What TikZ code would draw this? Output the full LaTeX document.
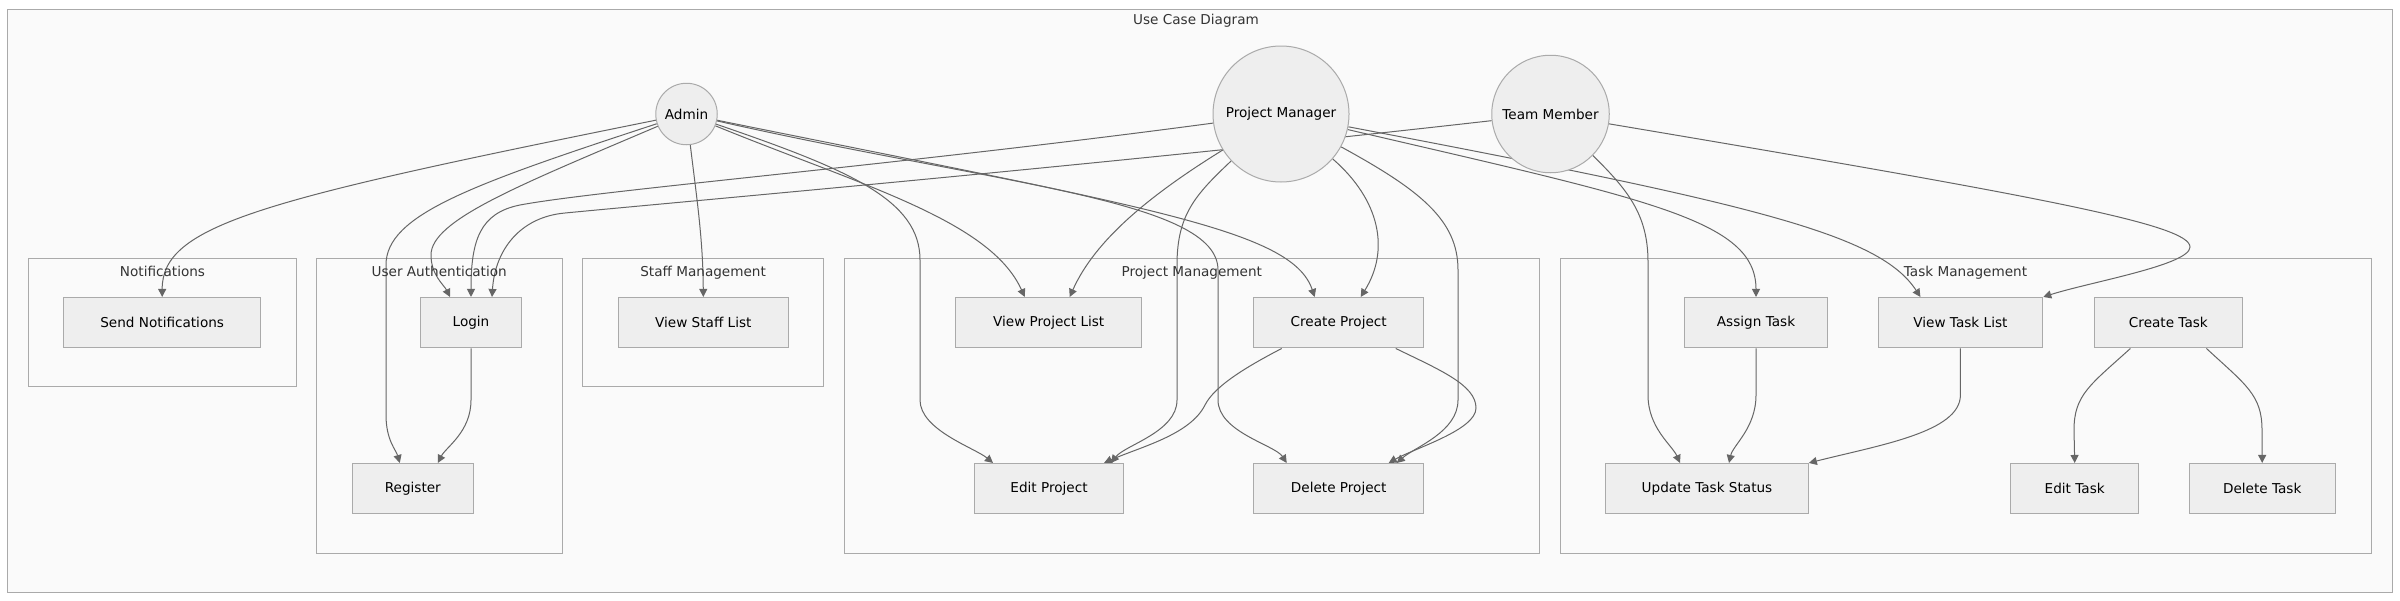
\documentclass[tikz,border=0pt]{standalone}
\usepackage{fontspec}
\setmainfont{DejaVu Sans}
\usetikzlibrary{arrows.meta}
\definecolor{nodefill}{HTML}{EEEEEE}
\definecolor{nodeline}{HTML}{AAAAAA}
\definecolor{edgecol}{HTML}{666666}
\definecolor{framefill}{HTML}{FAFAFA}
\definecolor{txt}{HTML}{333333}
\pgfdeclarelayer{frames}
\pgfdeclarelayer{edges}
\pgfsetlayers{frames,edges,main}

\begin{document}
\begin{tikzpicture}[x=1pt, y=-1pt, font=\fontsize{13.6}{16}\selectfont, actor/.style={circle, draw=nodeline, fill=nodefill, line width=1pt, text=black, inner sep=0pt}, usecase/.style={rectangle, draw=nodeline, fill=nodefill, line width=1pt, minimum height=50.5pt, inner sep=0pt, text=black}, frame/.style={draw=nodeline, fill=framefill, line width=1pt}, ftitle/.style={anchor=base, text=txt, inner sep=0pt}, arr/.style={draw=edgecol, line width=1pt, -{Triangle[length=8pt, width=8pt]}}]
\useasboundingbox (0,0) rectangle (2400,600);
% actors
\node[actor, minimum size=61.5pt] (admin) at (686.5,114) {Admin};
\node[actor, minimum size=136pt] (pm) at (1281,114) {Project Manager};
\node[actor, minimum size=117.5pt] (tm) at (1550.5,114) {Team Member};
% use cases, upper row
\node[usecase, minimum width=197pt] (send) at (162.2,322.7) {Send Notifications};
\node[usecase, minimum width=101pt] (login) at (471,322.7) {Login};
\node[usecase, minimum width=170pt] (staff) at (703.3,322.7) {View Staff List};
\node[usecase, minimum width=186pt] (vpl) at (1048.7,322.7) {View Project List};
\node[usecase, minimum width=169.5pt] (cproj) at (1338.7,322.7) {Create Project};
\node[usecase, minimum width=143pt] (assign) at (1756,322.7) {Assign Task};
\node[usecase, minimum width=164.7pt] (vtl) at (1960.4,322.7) {View Task List};
\node[usecase, minimum width=147.3pt] (ctask) at (2168.4,322.7) {Create Task};
% use cases, lower row
\node[usecase, minimum width=121.5pt] (register) at (412.8,488.7) {Register};
\node[usecase, minimum width=149pt] (eproj) at (1049,488.7) {Edit Project};
\node[usecase, minimum width=169.5pt] (dproj) at (1338.7,488.7) {Delete Project};
\node[usecase, minimum width=202.7pt] (update) at (1707,488.7) {Update Task Status};
\node[usecase, minimum width=128pt] (etask) at (2074.7,488.7) {Edit Task};
\node[usecase, minimum width=146.4pt] (dtask) at (2262.2,488.7) {Delete Task};
% frames
\begin{pgfonlayer}{frames}
\draw[frame] (7.7,9) rectangle (2392,592);
\draw[frame] (28.6,258.7) rectangle (296.4,386.7);
\draw[frame] (316.3,258.7) rectangle (562.2,553);
\draw[frame] (582.7,258.7) rectangle (823.5,386.7);
\draw[frame] (844.4,258.7) rectangle (1539.3,553);
\draw[frame] (1560,258.7) rectangle (2371,553);
\end{pgfonlayer}
\node[ftitle] (title) at (1196,24) {Use Case Diagram};
\node[ftitle] (tnotif) at (162.5,276) {Notifications};
\node[ftitle] (tauth) at (439.2,276) {User Authentication};
\node[ftitle] (tstaff) at (703.1,276) {Staff Management};
\node[ftitle] (tproj) at (1191.8,276) {Project Management};
\node[ftitle] (ttask) at (1965.5,276) {Task Management};
% connectors
\begin{pgfonlayer}{edges}
\draw[arr] (admin) .. controls (260,200) and (162,225) .. (send.north);
\draw[arr] (admin) .. controls (470,185) and (386,215) .. (386,265) -- (386,415) .. controls (386,440) and (396,450) .. ([xshift=-13]register.north);
\draw[arr] (admin) .. controls (520,185) and (431,220) .. (431,255) .. controls (431,275) and (444,285) .. ([xshift=-21]login.north);
\draw[arr] (admin) .. controls (697,200) and (703,240) .. (staff.north);
\draw[arr] (admin) .. controls (860,185) and (990,220) .. ([xshift=-24]vpl.north);
\draw[arr] (admin) .. controls (850,170) and (920,200) .. (920,260) -- (920,400) .. controls (920,430) and (975,448) .. ([xshift=-56]eproj.north);
\draw[arr] (admin) .. controls (1000,185) and (1218,200) .. (1218,270) -- (1218,400) .. controls (1218,432) and (1275,445) .. ([xshift=-52]dproj.north);
\draw[arr] (admin) .. controls (1150,208) and (1292,230) .. ([xshift=-24]cproj.north);
\draw[arr] (pm) .. controls (900,165) and (600,190) .. (520,205) .. controls (480,213) and (471,240) .. (login.north);
\draw[arr] (pm) .. controls (1150,195) and (1095,240) .. ([xshift=21]vpl.north);
\draw[arr] (pm) .. controls (1195,195) and (1177,215) .. (1177,265) -- (1177,400) .. controls (1177,432) and (1125,445) .. ([xshift=62]eproj.north);
\draw[arr] (pm) .. controls (1380,200) and (1390,250) .. ([xshift=22]cproj.north);
\draw[arr] (pm) .. controls (1420,190) and (1458,220) .. (1458,270) -- (1458,400) .. controls (1458,432) and (1415,447) .. ([xshift=58]dproj.north);
\draw[arr] (pm) .. controls (1650,200) and (1756,220) .. (assign.north);
\draw[arr] (pm) .. controls (1760,205) and (1880,235) .. ([xshift=-40]vtl.north);
\draw[arr] (tm) .. controls (1100,165) and (700,200) .. (565,213) .. controls (520,217) and (495,250) .. ([xshift=21]login.north);
\draw[arr] (tm) .. controls (2050,198) and (2190,225) .. (2190,247) .. controls (2190,265) and (2090,282) .. (vtl.north east);
\draw[arr] (tm) .. controls (1628,190) and (1648,215) .. (1648,262) -- (1648,395) .. controls (1648,428) and (1672,445) .. ([xshift=-27]update.north);
\draw[arr] (login.south) -- (471,400) .. controls (471,432) and (446,447) .. ([xshift=25]register.north);
\draw[arr] ([xshift=-57]cproj.south) .. controls (1250,365) and (1215,385) .. (1205,405) .. controls (1190,435) and (1140,447) .. ([xshift=55]eproj.north);
\draw[arr] ([xshift=57]cproj.south) .. controls (1440,370) and (1476,385) .. (1476,408) .. controls (1476,430) and (1415,448) .. ([xshift=50]dproj.north);
\draw[arr] (assign.south) -- (1756,395) .. controls (1756,428) and (1733,445) .. ([xshift=22]update.north);
\draw[arr] (vtl.south) -- (1960.4,395) .. controls (1960.4,432) and (1880,445) .. (update.north east);
\draw[arr] ([xshift=-38]ctask.south) .. controls (2090,385) and (2074,395) .. (2074,430) -- (etask.north);
\draw[arr] ([xshift=38]ctask.south) .. controls (2246,385) and (2262,395) .. (2262,430) -- (dtask.north);
\end{pgfonlayer}
\end{tikzpicture}
\end{document}
